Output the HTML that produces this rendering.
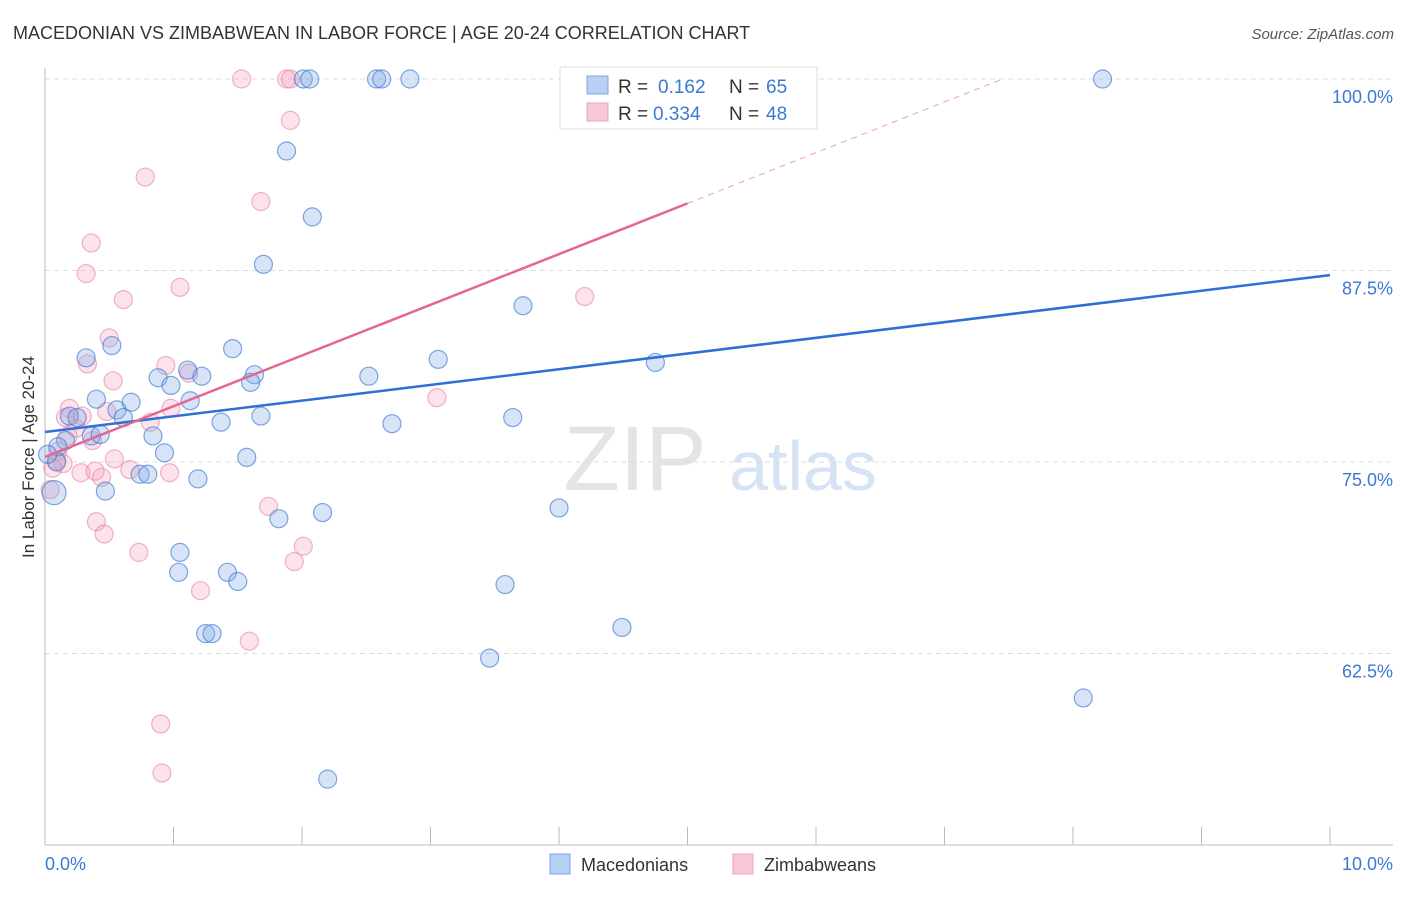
<!DOCTYPE html>
<html><head><meta charset="utf-8"><style>
body{margin:0;background:#fff;font-family:"Liberation Sans",sans-serif}
svg text{font-family:"Liberation Sans",sans-serif}
</style></head><body>
<svg id="chart" width="1406" height="892" xmlns="http://www.w3.org/2000/svg">
<text x="13" y="39" font-size="18" fill="#333">MACEDONIAN VS ZIMBABWEAN IN LABOR FORCE | AGE 20-24 CORRELATION CHART</text>
<text x="1394" y="39" font-size="15" fill="#555" text-anchor="end" font-style="italic">Source: ZipAtlas.com</text>
<g>
<text x="635" y="490" font-size="92" fill="#e4e4e4" text-anchor="middle" font-family="Liberation Serif">ZIP</text>
<text x="803" y="490" font-size="70" fill="#d6e3f5" text-anchor="middle">atlas</text>
</g>
<g id="grid"></g>
<g id="axes"></g>
<g id="marks"></g>
<g id="trends"></g>
<text transform="translate(34,457) rotate(-90)" font-size="17" fill="#333" text-anchor="middle">In Labor Force | Age 20-24</text>
<g>
<rect x="560" y="67" width="257" height="62" fill="#fff" stroke="#ddd"/>
<rect x="587" y="76" width="21" height="18" fill="#b7d0f3" stroke="#7aa7e4"/>
<rect x="587" y="103" width="21" height="18" fill="#f9c8d7" stroke="#eea2bb"/>
<text x="618" y="93" font-size="19" fill="#333">R =</text>
<text x="658" y="93" font-size="19" fill="#3b78d6">0.162</text>
<text x="729" y="93" font-size="19" fill="#333">N =</text>
<text x="766" y="93" font-size="19" fill="#3b78d6">65</text>
<text x="618" y="120" font-size="19" fill="#333">R =</text>
<text x="653" y="120" font-size="19" fill="#3b78d6">0.334</text>
<text x="729" y="120" font-size="19" fill="#333">N =</text>
<text x="766" y="120" font-size="19" fill="#3b78d6">48</text>
</g>
<g>
<rect x="550" y="854" width="20" height="20" fill="#b7d0f3" stroke="#7aa7e4"/>
<text x="581" y="871" font-size="18" fill="#333">Macedonians</text>
<rect x="733" y="854" width="20" height="20" fill="#f9c8d7" stroke="#eea2bb"/>
<text x="764" y="871" font-size="18" fill="#333">Zimbabweans</text>
</g>
</svg>
<script>
const yTicks=[100,87.5,75,62.5];
const yTickLabels=["100.0%","87.5%","75.0%","62.5%"];
const xTickLabels=["0.0%","10.0%"];
const blueX=[2.01,2.06,2.58,2.62,2.84,4.15,8.23,1.88,2.08,1.70,3.72,0.32,0.52,1.46,3.06,4.75,0.88,0.98,1.22,1.11,1.63,1.60,2.52,1.13,0.40,0.67,0.56,0.61,0.19,0.25,1.68,3.64,1.37,2.70,0.84,0.36,0.43,0.16,0.10,0.93,1.57,0.74,0.80,1.19,0.47,0.07,1.82,2.16,4.00,1.05,1.04,1.42,1.50,3.58,1.25,1.30,4.49,3.46,8.08,2.20,0.09,0.02];
const blueY=[100,100,100,100,100,100,100,95.3,91.0,87.9,85.2,81.8,82.6,82.4,81.7,81.5,80.5,80.0,80.6,81.0,80.7,80.2,80.6,79.0,79.1,78.9,78.4,77.9,78.0,77.9,78.0,77.9,77.6,77.5,76.7,76.7,76.8,76.4,76.0,75.6,75.3,74.2,74.2,73.9,73.1,73.0,71.3,71.7,72.0,69.1,67.8,67.8,67.2,67.0,63.8,63.8,64.2,62.2,59.6,54.3,75.0,75.5];
const pinkX=[1.53,1.88,1.91,4.63,1.91,0.78,1.68,0.36,0.32,1.05,0.61,4.20,0.50,0.33,0.94,1.12,0.53,3.05,0.98,0.19,0.29,0.48,0.82,0.24,0.18,0.37,0.10,0.14,0.09,0.54,0.28,0.39,0.44,0.66,0.97,1.74,0.40,0.46,2.01,0.73,1.94,1.21,1.59,0.90,0.91,0.04,0.16,0.06];
const pinkY=[100,100,100,100,97.3,93.6,92.0,89.3,87.3,86.4,85.6,85.8,83.1,81.4,81.3,80.8,80.3,79.2,78.5,78.5,78.0,78.3,77.6,77.2,76.7,76.4,75.7,74.9,75.1,75.2,74.3,74.4,74.0,74.5,74.3,72.1,71.1,70.3,69.5,69.1,68.5,66.6,63.3,57.9,54.7,73.2,77.9,74.6];
const blueTrend=[76.96,87.2]; // y at x=0 and x=10
const pinkTrend=[75.33,3.31]; // intercept, slope per %
const NS="http://www.w3.org/2000/svg";
const X=v=>45+v*128.5, Y=v=>79+(100-v)*15.32;
function mk(t,a,p){const e=document.createElementNS(NS,t);for(const k in a)e.setAttribute(k,a[k]);p.appendChild(e);return e;}
const grid=document.getElementById('grid'),axes=document.getElementById('axes'),marks=document.getElementById('marks'),tr=document.getElementById('trends');
yTicks.forEach((t,i)=>{
 const l=mk('line',{x1:45,x2:1393,y1:Y(t),y2:Y(t),stroke:'#ddd','stroke-dasharray':'5,4'},grid);
 
 
 const tx=mk('text',{x:1393,y:Y(t)+24,'font-size':18,fill:'#3b78d6','text-anchor':'end'},axes);
 tx.textContent=yTickLabels[i];
 
 
});
let a=mk('line',{x1:45,x2:45,y1:68,y2:845,stroke:'#bbb'},axes);


a=mk('line',{x1:45,x2:1393,y1:845,y2:845,stroke:'#bbb'},axes);


for(let k=1;k<=10;k++){const t=mk('line',{x1:X(k),x2:X(k),y1:827,y2:845,stroke:'#bbb'},axes);
 
 }
xTickLabels.forEach((s,i)=>{const t=mk('text',{x:i?1393:45,y:870,'font-size':18,fill:'#3b78d6','text-anchor':i?'end':'start'},axes);t.textContent=s;
 
 });
pinkX.forEach((x,i)=>{const c=mk('circle',{cx:X(x),cy:Y(pinkY[i]),r:9,fill:'rgba(244,160,188,0.3)',stroke:'rgba(230,130,165,0.6)','stroke-width':1.2},marks);
 
 });
blueX.forEach((x,i)=>{const c=mk('circle',{cx:X(x),cy:Y(blueY[i]),r:i==45?12:9,fill:'rgba(130,170,230,0.32)',stroke:'rgba(60,120,210,0.65)','stroke-width':1.2},marks);
 
 });
let L=mk('line',{x1:X(0),y1:Y(blueTrend[0]),x2:X(10),y2:Y(blueTrend[1]),stroke:'#2f6fd6','stroke-width':2.5},tr);


const xEnd=(100-pinkTrend[0])/pinkTrend[1];
L=mk('line',{x1:X(0),y1:Y(pinkTrend[0]),x2:X(5),y2:Y(pinkTrend[0]+5*pinkTrend[1]),stroke:'#e5668f','stroke-width':2.5},tr);


L=mk('line',{x1:X(5),y1:Y(pinkTrend[0]+5*pinkTrend[1]),x2:X(xEnd),y2:Y(100),stroke:'#eaa0b8','stroke-width':1,'stroke-dasharray':'6,5'},tr);


</script>
</body></html>
